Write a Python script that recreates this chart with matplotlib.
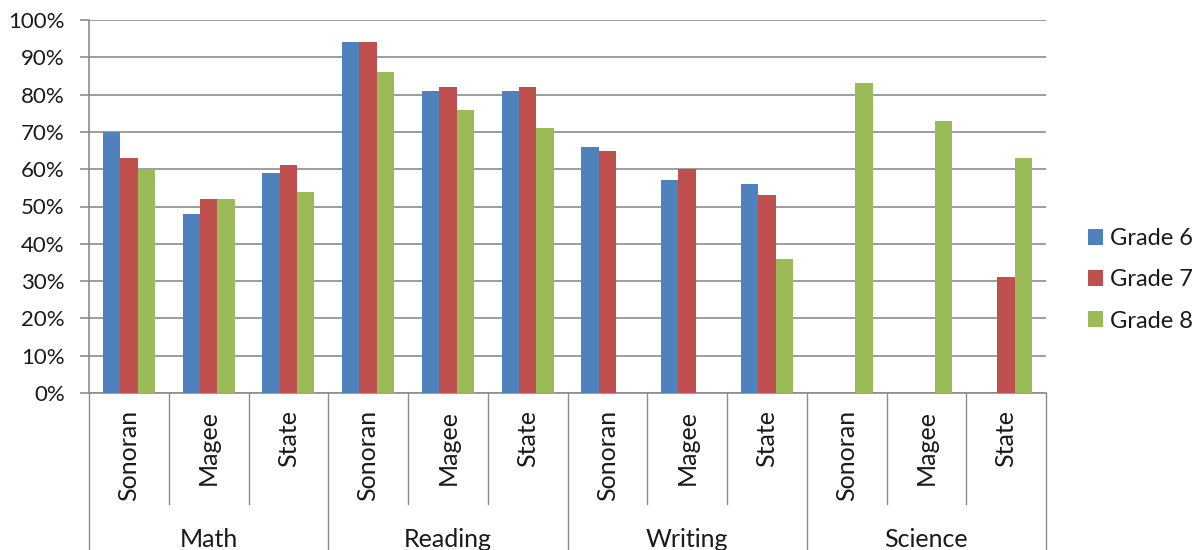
import numpy as np
import matplotlib.pyplot as plt
from matplotlib.patches import Patch

plt.rcParams['font.family'] = ['Lato', 'DejaVu Sans']

subjects = ['Math', 'Reading', 'Writing', 'Science']
schools = ['Sonoran', 'Magee', 'State']
series = ['Grade 6', 'Grade 7', 'Grade 8']
colors = ['#4F81BD', '#C0504D', '#9BBB59']

# percentages, one value per subject/school pair (nan = no bar)
grade6 = [70, 48, 59, 94, 81, 81, 66, 57, 56, np.nan, np.nan, np.nan]
grade7 = [63, 52, 61, 94, 82, 82, 65, 60, 53, np.nan, np.nan, 31]
grade8 = [60, 52, 54, 86, 76, 71, np.nan, np.nan, 36, 83, 73, 63]

values = [grade6, grade7, grade8]
n = len(subjects) * len(schools)
x = np.arange(n)
w = 0.218

fig = plt.figure(figsize=(11.99, 5.5), dpi=100)
ax = fig.add_axes([89 / 1199, 157 / 550, 957 / 1199, 373 / 550])

for i, (vals, col) in enumerate(zip(values, colors)):
    ax.bar(x + (i - 1) * w, np.array(vals) / 100, width=w, color=col, zorder=3)

ax.set_xlim(-0.5, n - 0.5)
ax.set_ylim(0, 1)
ax.set_yticks(np.arange(0, 1.01, 0.1))
ax.set_yticklabels([f'{int(round(v * 100))}%' for v in np.arange(0, 1.01, 0.1)])
ax.yaxis.grid(True, color='#8c8c8c', linewidth=1.2, zorder=0)
ax.set_axisbelow(True)
ax.tick_params(axis='y', length=6.5, width=1.2, color='#8c8c8c', labelsize=16,
               pad=11, labelcolor='#1a1a1a')
ax.set_xticks([])

for s in ['top', 'right']:
    ax.spines[s].set_visible(False)
for s in ['left', 'bottom']:
    ax.spines[s].set_color('#8c8c8c')
    ax.spines[s].set_linewidth(1.2)

trans = ax.get_xaxis_transform()
# category dividers below the axis
for k in range(n + 1):
    bottom = -0.43 if k % 3 == 0 else -0.297
    ax.plot([k - 0.5, k - 0.5], [0, bottom], color='#8c8c8c', lw=1.0,
            transform=trans, clip_on=False)

for k in range(n):
    ax.text(k, -0.045, schools[k % 3], rotation=90, ha='center', va='top',
            fontsize=18, color='#1a1a1a', transform=trans)

for g, name in enumerate(subjects):
    ax.text(g * 3 + 1, -0.392, name, ha='center', va='center', fontsize=18,
            color='#1a1a1a', transform=trans)

handles = [Patch(facecolor=c) for c in colors]
fig.legend(handles, series, loc='center left', bbox_to_anchor=(1088 / 1199, 0.491),
           frameon=False, fontsize=17, handlelength=0.64, handleheight=0.64,
           handletextpad=0.3, labelspacing=0.85, borderpad=0, borderaxespad=0,
           labelcolor='#1a1a1a')

fig.savefig('out.png', dpi=100)
